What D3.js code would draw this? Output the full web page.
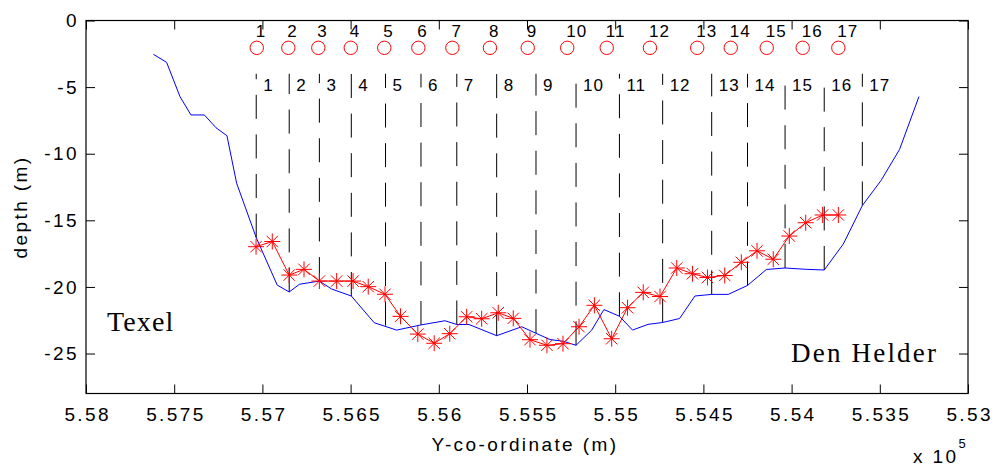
<!DOCTYPE html>
<html>
<head>
<meta charset="utf-8">
<script src="https://cdn.jsdelivr.net/npm/d3@7"></script>
<style>
  body { margin: 0; background: #fff; }
  svg { display: block; }
</style>
</head>
<body>
<svg id="canvas" width="995" height="467"></svg>
<script>
// bed profile (blue line), Y-co-ordinate in units of 1e5 m
var bedY = [5.57618, 5.57543, 5.57467, 5.57405, 5.57329, 5.57263, 5.57201, 5.57146, 5.57035, 5.56916,
  5.56848, 5.5679, 5.56677, 5.56607, 5.56496, 5.56366, 5.56239, 5.56104, 5.55965, 5.55898,
  5.55829, 5.55672, 5.5553, 5.5537, 5.55294, 5.55222, 5.55133, 5.55064, 5.54976, 5.54902,
  5.54814, 5.54731, 5.54635, 5.54548, 5.54453, 5.54359, 5.5425, 5.54143, 5.54037, 5.53914,
  5.53815, 5.53707, 5.53599, 5.53493, 5.53388, 5.53278]
var bedDepth = [-2.54, -3.14, -5.72, -7.09, -7.09, -8.05, -8.65, -12.22, -16.3, -19.86,
  -20.38, -19.8, -19.56, -20.16, -20.68, -22.69, -23.24, -22.86, -22.54, -22.82,
  -22.82, -23.66, -22.99, -23.95, -24.08, -24.38, -23.24, -21.7, -22.2, -23.24,
  -22.81, -22.67, -22.37, -20.68, -20.56, -20.56, -19.89, -18.69, -18.58, -18.68,
  -18.73, -16.78, -13.89, -12.01, -9.68, -5.71]

// measured depths (red stars)
var sampleY = [5.57036, 5.56944, 5.56848, 5.56764, 5.56677, 5.56579, 5.56486, 5.564, 5.56305, 5.56217,
  5.56119, 5.56026, 5.55938, 5.55842, 5.55757, 5.55663, 5.55578, 5.55483, 5.55387, 5.55296,
  5.55205, 5.55118, 5.5502, 5.5493, 5.54841, 5.54746, 5.54651, 5.54562, 5.54477, 5.54379,
  5.54285, 5.54196, 5.54104, 5.54013, 5.5392, 5.53824, 5.53735]
var sampleDepth = [-16.98, -16.59, -19.11, -18.68, -19.56, -19.56, -19.56, -19.98, -20.55, -22.21,
  -23.54, -24.23, -23.51, -22.24, -22.39, -21.94, -22.36, -23.96, -24.38, -24.26,
  -22.99, -21.38, -23.89, -21.56, -20.41, -20.72, -18.58, -19.01, -19.29, -19.14,
  -18.15, -17.29, -17.92, -16.18, -15.18, -14.6, -14.6]

// stations (dashed verticals) and buoys (circles)
var stationY = [5.57035, 5.56848, 5.56677, 5.56496, 5.56302, 5.56101, 5.55898, 5.55672, 5.55449,
  5.55222, 5.54976, 5.54731, 5.54453, 5.5425, 5.54037, 5.53815, 5.53599]
var stationBed = [-16.3, -20.38, -19.56, -20.68, -22.9, -22.86, -22.82, -23.66, -23.47,
  -24.38, -22.2, -22.67, -20.56, -19.89, -18.58, -18.73, -13.89]
var buoyY = [5.57032, 5.56853, 5.56683, 5.56499, 5.56309, 5.56116, 5.55923, 5.5571, 5.55496,
  5.55272, 5.55048, 5.54803, 5.54535, 5.54345, 5.54141, 5.53937, 5.53735]
var stationLabels = ['1', '2', '3', '4', '5', '6', '7', '8', '9', '10', '11', '12', '13', '14', '15', '16', '17']

var stationTop = -4
var buoyDepth = -2.05

// axis ticks
var xTicks = [5.58, 5.575, 5.57, 5.565, 5.56, 5.555, 5.55, 5.545, 5.54, 5.535, 5.53]
var xTickLabels = ['5.58', '5.575', '5.57', '5.565', '5.56', '5.555', '5.55', '5.545', '5.54', '5.535', '5.53']
var yTicks = [-25, -20, -15, -10, -5, 0]
var yTickLabels = ['-25', '-20', '-15', '-10', '-5', '0']

var FONT = '"Liberation Sans", Arial, Helvetica, sans-serif'
var SERIF = '"Liberation Serif", "Times New Roman", serif'

// plot box (note: "top" is a reserved window global, so use prefixed names)
var boxL = 86, boxR = 968, boxT = 20.5, boxB = 393.5
var x = d3.scaleLinear().domain([5.58, 5.53]).range([boxL, boxR])
var y = d3.scaleLinear().domain([-28, 0]).range([boxB, boxT])

var canvas = d3.select('#canvas')
canvas.append('rect').attr('width', 995).attr('height', 467).attr('fill', '#fff')

// axes, ticks pointing inward on all four sides
function styleAxis(g) {
  g.select('.domain').remove()
  g.selectAll('line').attr('stroke', '#000')
  g.selectAll('text')
    .attr('fill', '#000')
    .style('font-family', FONT)
    .style('font-size', '19px')
    .style('letter-spacing', '2.4px')
}

canvas.append('g')
  .attr('transform', 'translate(0,' + boxB + ')')
  .call(d3.axisBottom(x).tickValues(xTicks).tickSize(-9).tickPadding(14)
    .tickFormat(function(d, i) { return xTickLabels[i] }))
  .call(styleAxis)
  .selectAll('text').attr('dx', '1.2px')

canvas.append('g')
  .attr('transform', 'translate(0,' + boxT + ')')
  .call(d3.axisTop(x).tickValues(xTicks).tickSize(-9).tickFormat(''))
  .call(styleAxis)

canvas.append('g')
  .attr('transform', 'translate(' + boxL + ',0)')
  .call(d3.axisLeft(y).tickValues(yTicks).tickSize(-9).tickPadding(7)
    .tickFormat(function(d, i) { return yTickLabels[i] }))
  .call(styleAxis)

canvas.append('g')
  .attr('transform', 'translate(' + boxR + ',0)')
  .call(d3.axisRight(y).tickValues(yTicks).tickSize(-9).tickFormat(''))
  .call(styleAxis)

canvas.append('rect')
  .attr('x', boxL).attr('y', boxT)
  .attr('width', boxR - boxL).attr('height', boxB - boxT)
  .attr('fill', 'none').attr('stroke', '#000').attr('stroke-width', 1.2)

// dashed station lines, drawn from the bed upward
canvas.append('g').selectAll('line')
  .data(stationY)
  .enter()
  .append('line')
  .attr('x1', function(d) { return x(d) })
  .attr('x2', function(d) { return x(d) })
  .attr('y1', function(d, i) { return y(stationBed[i]) })
  .attr('y2', y(stationTop))
  .attr('stroke', '#000')
  .attr('stroke-width', 1)
  .attr('stroke-dasharray', '24,15.6')

canvas.append('g').selectAll('text')
  .data(stationY)
  .enter()
  .append('text')
  .attr('x', function(d) { return x(d) + 7 })
  .attr('y', y(-5.27))
  .style('font-family', FONT)
  .style('font-size', '17px')
  .style('letter-spacing', '1px')
  .text(function(d, i) { return stationLabels[i] })

// bed profile
canvas.append('path')
  .datum(bedY)
  .attr('fill', 'none')
  .attr('stroke', '#0000ff')
  .attr('stroke-width', 1)
  .attr('d', d3.line()
    .x(function(d) { return x(d) })
    .y(function(d, i) { return y(bedDepth[i]) }))

// measured depths
canvas.append('path')
  .datum(sampleY)
  .attr('fill', 'none')
  .attr('stroke', '#ff0000')
  .attr('stroke-width', 1)
  .attr('d', d3.line()
    .x(function(d) { return x(d) })
    .y(function(d, i) { return y(sampleDepth[i]) }))

var r = 8, q = 5.7
var star = 'M' + (-r) + ',0H' + r + 'M0,' + (-r) + 'V' + r +
  'M' + (-q) + ',' + (-q) + 'L' + q + ',' + q + 'M' + (-q) + ',' + q + 'L' + q + ',' + (-q)
canvas.append('g').selectAll('path')
  .data(sampleY)
  .enter()
  .append('path')
  .attr('transform', function(d, i) { return 'translate(' + x(d) + ',' + y(sampleDepth[i]) + ')' })
  .attr('d', star)
  .attr('fill', 'none')
  .attr('stroke', '#ff0000')
  .attr('stroke-width', 1)

// buoys
canvas.append('g').selectAll('circle')
  .data(buoyY)
  .enter()
  .append('circle')
  .attr('cx', function(d) { return x(d) })
  .attr('cy', y(buoyDepth))
  .attr('r', 6.7)
  .attr('fill', 'none')
  .attr('stroke', '#ff0000')
  .attr('stroke-width', 1)

canvas.append('g').selectAll('text')
  .data(buoyY)
  .enter()
  .append('text')
  .attr('x', function(d) { return x(d) - 1 })
  .attr('y', y(-1.26))
  .style('font-family', FONT)
  .style('font-size', '17px')
  .style('letter-spacing', '1px')
  .text(function(d, i) { return stationLabels[i] })

// place names
canvas.append('text')
  .attr('x', 107).attr('y', 331)
  .style('font-family', SERIF).style('font-size', '28px').style('letter-spacing', '1.1px')
  .text('Texel')
canvas.append('text')
  .attr('x', 791).attr('y', 361.5)
  .style('font-family', SERIF).style('font-size', '27px').style('letter-spacing', '2.2px')
  .text('Den Helder')

// axis labels
canvas.append('text')
  .attr('x', 525).attr('y', 450.5)
  .attr('text-anchor', 'middle')
  .style('font-family', FONT).style('font-size', '19px').style('letter-spacing', '2.4px')
  .text('Y-co-ordinate (m)')

canvas.append('text')
  .attr('transform', 'translate(27,' + ((boxT + boxB) / 2) + ') rotate(-90)')
  .attr('text-anchor', 'middle')
  .style('font-family', FONT).style('font-size', '19px').style('letter-spacing', '2.4px')
  .text('depth (m)')

var mult = canvas.append('text')
  .attr('x', 913).attr('y', 463)
  .style('font-family', FONT).style('font-size', '19px').style('letter-spacing', '2.4px')
mult.append('tspan').text('x 10')
mult.append('tspan').attr('dy', -15).style('font-size', '13px').text('5')
</script>
</body>
</html>
